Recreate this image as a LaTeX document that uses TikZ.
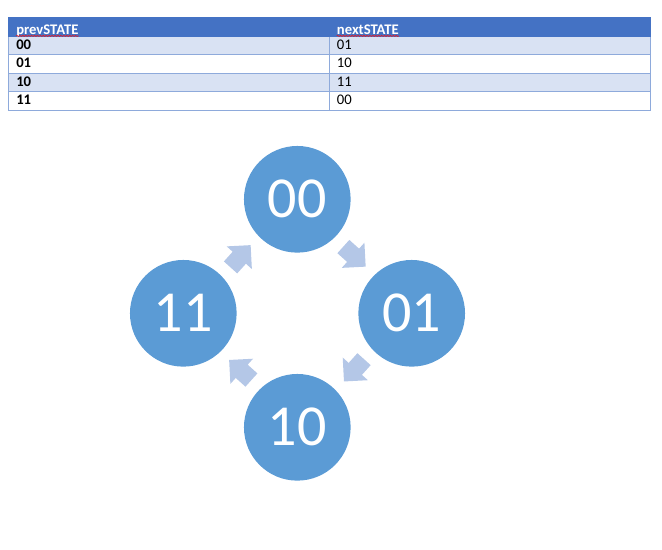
\documentclass[tikz,border=0pt]{standalone}
\usepackage{fontspec}
\setmainfont{Carlito}
\usepackage{tikz}
\usetikzlibrary{arrows.meta, positioning, calc, shapes.arrows, decorations.pathmorphing}
\definecolor{thead}{HTML}{4472C4}
\definecolor{trow}{HTML}{D9E2F3}
\definecolor{tline}{HTML}{8EAADB}
\definecolor{sfill}{HTML}{5B9BD5}
\definecolor{sarrow}{HTML}{B4C7E7}
\definecolor{spell}{HTML}{E0202A}

\begin{document}
\begin{tikzpicture}[
    every node/.style={inner sep=0pt},
    cell/.style={anchor=base west, font=\fontsize{11}{13}\selectfont},
    bcell/.style={cell, font=\fontsize{11}{13}\selectfont\bfseries},
    hcell/.style={bcell, text=white},
    state/.style={circle, fill=sfill, text=white, minimum size=80pt,
                  font=\fontsize{43.5}{52}\selectfont},
    cyc/.style={single arrow, fill=sarrow, minimum height=22.5pt, minimum width=24.5pt,
                inner ysep=6.5pt, single arrow head extend=6pt, single arrow head indent=0pt},
    wavy/.style={spell, line width=0.5pt, decorate,
                 decoration={snake, amplitude=0.5pt, segment length=2.2pt}},
    x=0.75pt, y=-0.75pt
  ]
  \useasboundingbox (0,0) rectangle (662,550);

  % table
  \fill[thead] (8,16.7) rectangle (650.7,36.7);
  \fill[trow] (8,36.7) rectangle (650.7,54.3);
  \fill[trow] (8,73.3) rectangle (650.7,91.7);
  \draw[tline, line width=0.75pt] (8,36.7) -- (8,110) -- (650.7,110) -- (650.7,36.7);
  \draw[tline, line width=0.75pt] (8,54.3) -- (650.7,54.3);
  \draw[tline, line width=0.75pt] (8,73.3) -- (650.7,73.3);
  \draw[tline, line width=0.75pt] (8,91.7) -- (650.7,91.7);
  \draw[tline, line width=0.75pt] (329.3,36.7) -- (329.3,110);

  \node[hcell] (hprev) at (16,34) {prevSTATE};
  \node[hcell] (hnext) at (336.7,34) {nextSTATE};
  \draw[wavy] ([yshift=-1.4pt]hprev.base west) -- ([yshift=-1.4pt]hprev.base east);
  \draw[wavy] ([yshift=-1.4pt]hnext.base west) -- ([yshift=-1.4pt]hnext.base east);

  \node[bcell] (p1) at (16,49.5) {00};
  \node[bcell] (p2) at (16,67.5) {01};
  \node[bcell] (p3) at (16,86) {10};
  \node[bcell] (p4) at (16,104.3) {11};
  \node[cell] (n1) at (336.7,49.5) {01};
  \node[cell] (n2) at (336.7,67.5) {10};
  \node[cell] (n3) at (336.7,86) {11};
  \node[cell] (n4) at (336.7,104.3) {00};

  % state cycle
  \node[state] (s00) at (297.3,199.3) {00};
  \node[state] (s01) at (411.7,313.3) {01};
  \node[state] (s10) at (297.3,427.3) {10};
  \node[state] (s11) at (183.3,313.3) {11};

  \node[cyc, rotate=-42] (a0001) at ($(s00)!0.5!(s01)+(-3.3,-2.7)$) {};
  \node[cyc, rotate=-132] (a0110) at ($(s01)!0.5!(s10)+(2.5,-3.3)$) {};
  \node[cyc, rotate=138] (a1011) at ($(s10)!0.5!(s11)+(3.3,2.7)$) {};
  \node[cyc, rotate=48] (a1100) at ($(s11)!0.5!(s00)+(-2.7,3.3)$) {};

\end{tikzpicture}
\end{document}
